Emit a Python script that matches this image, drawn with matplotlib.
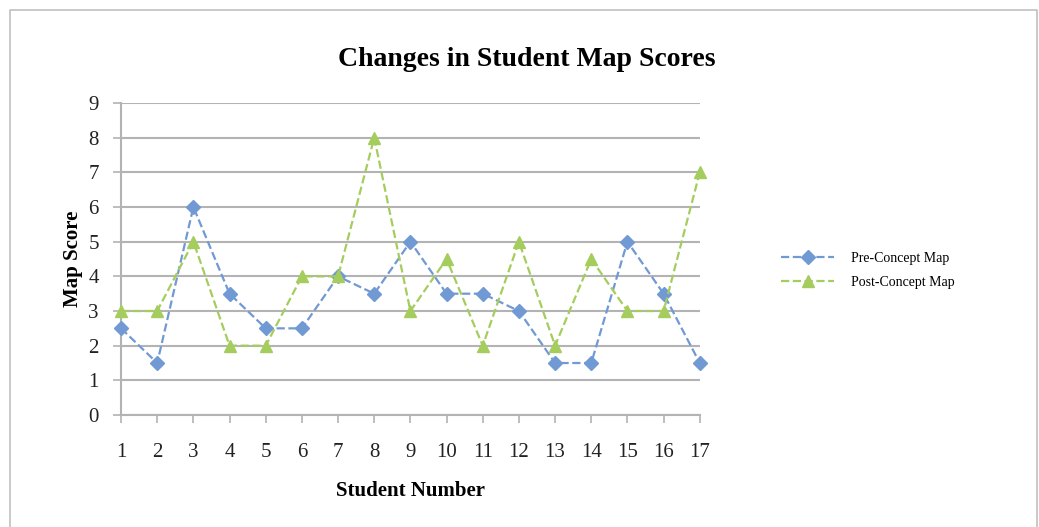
import numpy as np
import matplotlib
matplotlib.use("Agg")
import matplotlib.pyplot as plt
from matplotlib.lines import Line2D

plt.rcParams["font.family"] = ["Liberation Serif", "DejaVu Serif"]

students = list(range(1, 18))
pre_scores = [2.5, 1.5, 6, 3.5, 2.5, 2.5, 4, 3.5, 5, 3.5, 3.5, 3, 1.5, 1.5, 5, 3.5, 1.5]
post_scores = [3, 3, 5, 2, 2, 4, 4, 8, 3, 4.5, 2, 5, 2, 4.5, 3, 3, 7]

blue = "#7199d3"
green = "#a5cd5e"
grid_gray = "#b3b3b3"

fig = plt.figure(figsize=(10.39, 5.27), dpi=100)
ax = fig.add_axes([0.1165, 0.2125, 0.557, 0.592])

# outer chart frame
fw, fh = 1039, 527
frame_x = [10 / fw, 10 / fw, 1037 / fw, 1037 / fw]
frame_y = [-0.01, 1 - 10 / fh, 1 - 10 / fh, -0.01]
fig.add_artist(Line2D(frame_x, frame_y, color="#c0c0c0", lw=1.2))

ax.plot(students, pre_scores, "--", color=blue, lw=1.6, marker="D",
        markersize=7, clip_on=False, zorder=3, label="Pre-Concept Map")
ax.plot(students, post_scores, "--", color=green, lw=1.6, marker="^",
        markersize=9, clip_on=False, zorder=3, label="Post-Concept Map")

ax.set_xlim(1, 17)
ax.set_ylim(0, 9)
ax.set_xticks(students)
ax.set_yticks(range(0, 10))
ax.yaxis.grid(True, color=grid_gray, lw=1.5)
ax.set_axisbelow(True)
for side in ["top", "right"]:
    ax.spines[side].set_visible(False)
ax.spines["left"].set_color(grid_gray)
ax.spines["bottom"].set_color(grid_gray)
ax.spines["left"].set_linewidth(1.5)
ax.spines["bottom"].set_linewidth(1.5)
ax.tick_params(axis="both", colors=grid_gray, labelcolor="#222222",
               labelsize=15, length=6, width=1.2)
ax.tick_params(axis="x", pad=14)
ax.tick_params(axis="y", pad=10)

ax.set_xlabel("Student Number", fontsize=15, fontweight="bold", labelpad=14)
ax.set_ylabel("Map Score", fontsize=15, fontweight="bold", labelpad=4)
fig.text(0.507, 0.888, "Changes in Student Map Scores", ha="center",
         va="center", fontsize=20, fontweight="bold")

fig.legend(loc="center left", bbox_to_anchor=(0.74, 0.4867), frameon=False,
           fontsize=10, handlelength=3.8, labelspacing=0.8, handletextpad=1.2)

fig.savefig("out.png", dpi=100)
